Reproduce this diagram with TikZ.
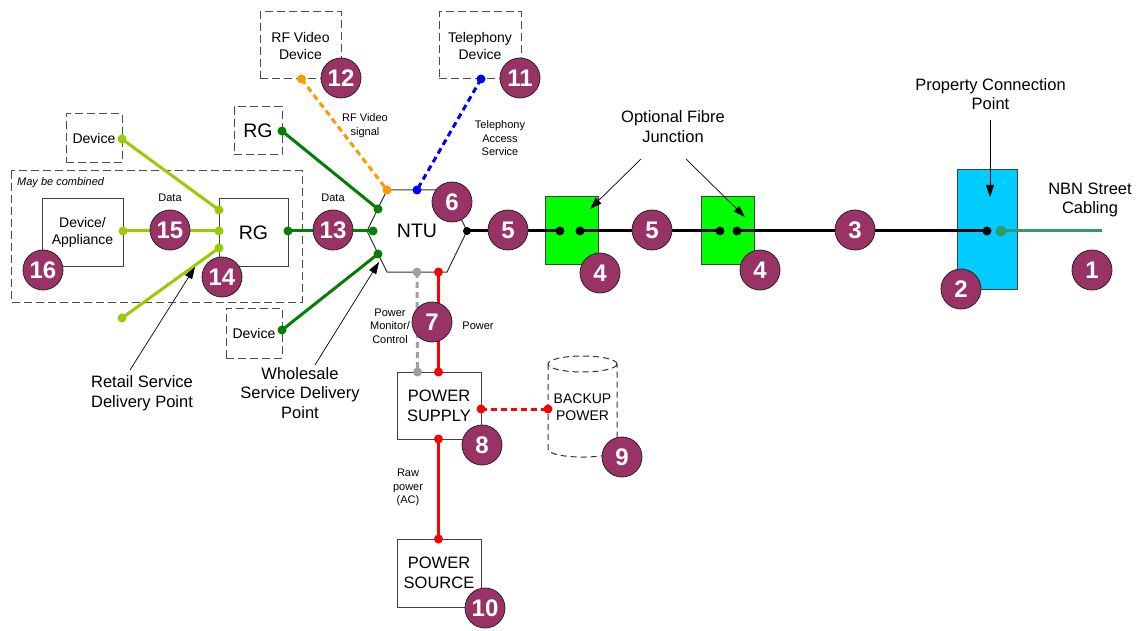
\documentclass[tikz,border=0pt]{standalone}
\usepackage{fontspec}
\setmainfont{Liberation Sans}
\usetikzlibrary{arrows.meta}
\definecolor{numfill}{RGB}{153,51,102}
\definecolor{lgreen}{RGB}{153,204,0}
\definecolor{dgreen}{RGB}{0,128,0}
\definecolor{sgreen}{RGB}{51,153,102}
\definecolor{jgreen}{RGB}{0,255,0}
\definecolor{pcpblue}{RGB}{0,204,255}
\definecolor{rfor}{RGB}{255,153,0}
\definecolor{telblue}{RGB}{0,0,255}
\definecolor{pwred}{RGB}{255,0,0}
\definecolor{pmgray}{RGB}{160,160,160}
\begin{document}
\begin{tikzpicture}[x=1pt,y=-1pt,
  num/.style={circle,draw=black!85,line width=0.8pt,fill=numfill,text=white,
    font=\fontsize{24}{24}\selectfont\bfseries,minimum size=40pt,inner sep=0pt},
  box/.style={draw=black!75,line width=1pt,inner sep=0pt,align=center,
    font=\fontsize{14}{17}\selectfont},
  pbox/.style={box,font=\fontsize{16.5}{20}\selectfont},
  dbox/.style={draw=black!70,dash pattern=on 8pt off 4pt,line width=1pt,inner sep=0pt,
    align=center,font=\fontsize{14}{17}\selectfont},
  big/.style={font=\fontsize{16.5}{19.5}\selectfont,align=center,inner sep=0pt},
  small/.style={font=\fontsize{11}{13.5}\selectfont,align=center,inner sep=0pt},
  link/.style={line width=3pt},
  dlink/.style={line width=3pt,dash pattern=on 6pt off 4pt},
  dot/.style={circle,fill=#1,inner sep=0pt,minimum size=9pt},
  ptr/.style={-{Triangle[length=12pt,width=8pt]},line width=0.7pt}
]
\useasboundingbox (0,0) rectangle (1143,631);
\fill[white] (0,0) rectangle (1143,631);

% ---------- boxes ----------
\draw[draw=black!70,dash pattern=on 8pt off 4pt,line width=1pt] (11,171) rectangle (302,302);
\node[small,anchor=west,font=\fontsize{11}{13}\selectfont\itshape] (maybe) at (17,183) {May be combined};
\node[box,minimum width=81pt,minimum height=67pt] (dev) at (82.5,232.5) {Device/\\Appliance};
\node[box,minimum width=69pt,minimum height=67pt,font=\fontsize{19.5}{22}\selectfont] (rg) at (253.5,232.5) {RG};
\node[dbox,minimum width=56pt,minimum height=49pt] (devT) at (94,138.5) {Device};
\node[dbox,minimum width=48pt,minimum height=48pt,font=\fontsize{19.5}{22}\selectfont] (rgT) at (258,131) {RG};
\node[dbox,minimum width=56pt,minimum height=50pt] (devB) at (254,333) {Device};
\node[dbox,minimum width=81pt,minimum height=67pt] (rfdev) at (300.5,45.5) {RF Video\\Device};
\node[dbox,minimum width=82pt,minimum height=67pt] (teldev) at (480,45.5) {Telephony\\Device};
\node[pbox,minimum width=84pt,minimum height=67pt] (ps) at (439,405.5) {POWER\\SUPPLY};
\node[pbox,minimum width=84pt,minimum height=68pt] (src) at (439,573) {POWER\\SOURCE};
\node[box,fill=jgreen,minimum width=53pt,minimum height=67pt] (j1) at (571.5,230.5) {};
\node[box,fill=jgreen,minimum width=53pt,minimum height=67pt] (j2) at (727.5,230.5) {};
\node[box,fill=pcpblue,minimum width=60pt,minimum height=119pt] (pcp) at (987,229.5) {};

% NTU hexagon
\draw[black!80,line width=1pt] (387,190) -- (447,190) -- (467,231) -- (447,272) -- (387,272) -- (367,231) -- cycle;
\node[font=\fontsize{19.5}{22}\selectfont] (ntu) at (417,231) {NTU};

% Backup power cylinder
\draw[black!80,line width=1pt,dash pattern=on 6pt off 4pt]
  (582.5,364) ellipse [x radius=34.5pt,y radius=8pt]
  (548,364) -- (548,449) .. controls (548,459.7) and (617,459.7) .. (617,449) -- (617,364);
\node[box,draw=none,font=\fontsize{14}{17}\selectfont] (bk) at (582.5,407.5) {BACKUP\\POWER};

% ---------- connection points ----------
\coordinate (rfD) at (301.5,79);   \coordinate (ntuO) at (387,190);
\coordinate (telD) at (481,79);    \coordinate (ntuB) at (417,190);
\coordinate (rgTD) at (282,131);   \coordinate (ntuG1) at (378,209);
\coordinate (rgRD) at (288,231);   \coordinate (ntuG2) at (373,231);
\coordinate (devBD) at (282,330);  \coordinate (ntuG3) at (378,254);
\coordinate (ntuGr) at (417,272);  \coordinate (psGr) at (417.5,372);
\coordinate (ntuR) at (438.5,272); \coordinate (psR1) at (438.5,372);
\coordinate (psRr) at (481,409);   \coordinate (bkR) at (548,409);
\coordinate (psRb) at (438.5,439); \coordinate (srcR) at (438.5,539);
\coordinate (ntuK) at (467,231);
\coordinate (j1a) at (560,231);    \coordinate (j1b) at (580,231);
\coordinate (j2a) at (720,231);    \coordinate (j2b) at (737,231);
\coordinate (pcpK) at (987,231);   \coordinate (pcpG) at (1001,231);
\coordinate (street) at (1102,231);
\coordinate (devTD) at (122,139);  \coordinate (rgL1) at (219,210);
\coordinate (devAD) at (123,231);  \coordinate (rgL2) at (219,231);
\coordinate (rgL3) at (219,248);   \coordinate (freeD) at (122,318);

% ---------- connectors ----------
\draw[dlink,rfor] (rfD) -- (ntuO);
\draw[dlink,telblue] (telD) -- (ntuB);
\draw[link,dgreen] (rgTD) -- (ntuG1);
\draw[link,dgreen] (rgRD) -- (ntuG2);
\draw[link,dgreen] (devBD) -- (ntuG3);
\draw[dlink,pmgray] (ntuGr) -- (psGr);
\draw[link,pwred] (ntuR) -- (psR1);
\draw[dlink,pwred] (psRr) -- (bkR);
\draw[link,pwred] (psRb) -- (srcR);
\draw[link,black] (ntuK) -- (j1a);
\draw[link,black] (j1b) -- (j2a);
\draw[link,black] (j2b) -- (pcpK);
\draw[link,sgreen] (pcpG) -- (street);
\draw[link,lgreen] (devTD) -- (rgL1);
\draw[link,lgreen] (devAD) -- (rgL2);
\draw[link,lgreen] (rgL3) -- (freeD);

% dots
\foreach \p in {rfD,ntuO} \node[dot=rfor] at (\p) {};
\foreach \p in {telD,ntuB} \node[dot=telblue] at (\p) {};
\foreach \p in {rgTD,ntuG1,rgRD,ntuG2,devBD,ntuG3} \node[dot=dgreen] at (\p) {};
\foreach \p in {ntuGr,psGr} \node[dot=pmgray] at (\p) {};
\foreach \p in {ntuR,psR1,psRr,bkR,psRb,srcR} \node[dot=pwred] at (\p) {};
\foreach \p in {j1a,j1b,j2a,j2b,pcpK} \node[dot=black] at (\p) {};
\node[dot=black,minimum size=8pt] at (ntuK) {};
\node[dot=sgreen,minimum size=11pt] at (pcpG) {};
\foreach \p in {devTD,rgL1,devAD,rgL2,rgL3,freeD} \node[dot=lgreen] at (\p) {};

% ---------- labels ----------
\node[small] (rfl) at (365,125.5) {RF Video\\signal};
\node[small] (tell) at (500,138.5) {Telephony\\Access\\Service};
\node[small] (data1) at (170,198) {Data};
\node[small] (data2) at (333,198) {Data};
\node[small] (pmc) at (390,326) {Power\\Monitor/\\Control};
\node[small] (pwl) at (478,326) {Power};
\node[small] (raw) at (408,487.5) {Raw\\power\\(AC)};
\node[big] (ofj) at (673,126.5) {Optional Fibre\\Junction};
\node[big] (pcpl) at (990.5,94) {Property Connection\\Point};
\node[big] (nbn) at (1090,200) {NBN Street\\Cabling};
\node[big] (rsdp) at (142,393) {Retail Service\\Delivery Point};
\node[big] (wsdp) at (300,393) {Wholesale\\Service Delivery\\Point};

% pointer arrows
\coordinate (rA) at (130,370);  \coordinate (rB) at (195,267);
\coordinate (wA) at (315,365);  \coordinate (wB) at (379,262);
\coordinate (o1A) at (641,159); \coordinate (o1B) at (590,209);
\coordinate (o2A) at (686,159); \coordinate (o2B) at (745,217);
\coordinate (pA) at (990,120);  \coordinate (pB) at (990,197);
\draw[ptr] (rA) -- (rB);
\draw[ptr] (wA) -- (wB);
\draw[ptr] (o1A) -- (o1B);
\draw[ptr] (o2A) -- (o2B);
\draw[ptr] (pA) -- (pB);

% ---------- numbered circles ----------
\node[num] (n1) at (1092,270) {1};
\node[num] (n2) at (961,289) {2};
\node[num] (n3) at (855,230) {3};
\node[num] (n4a) at (600,273) {4};
\node[num] (n4b) at (760,270) {4};
\node[num] (n5a) at (508,230) {5};
\node[num] (n5b) at (652,230) {5};
\node[num] (n6) at (452,202) {6};
\node[num] (n7) at (432,322) {7};
\node[num] (n8) at (482,445) {8};
\node[num] (n9) at (622,457) {9};
\node[num] (n10) at (485,608) {10};
\node[num] (n11) at (520,78) {11};
\node[num] (n12) at (341,78) {12};
\node[num] (n13) at (333,230) {13};
\node[num] (n14) at (222,277) {14};
\node[num] (n15) at (170,230) {15};
\node[num] (n16) at (43,270) {16};
\end{tikzpicture}
\end{document}
